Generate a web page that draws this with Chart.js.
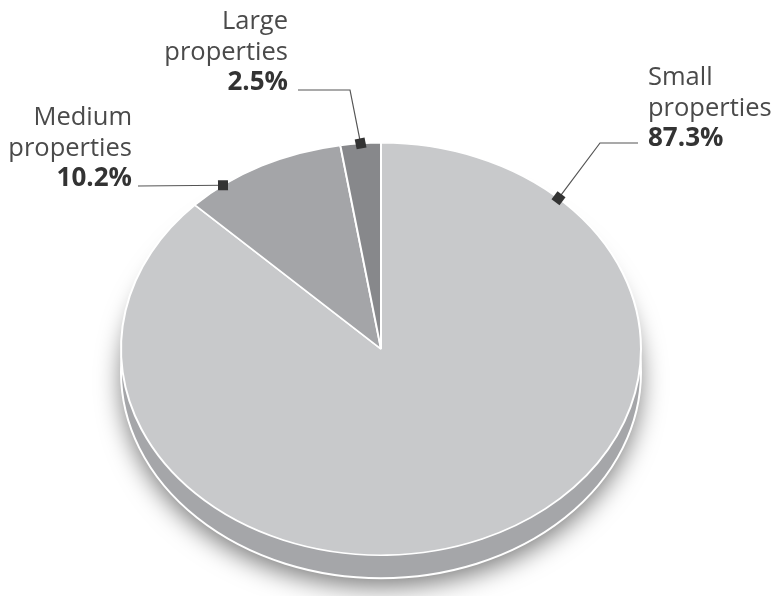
<!DOCTYPE html>
<html>
<head>
<meta charset="utf-8">
<script src="https://cdn.jsdelivr.net/npm/chart.js@4/dist/chart.umd.min.js"></script>
<style>
  html, body { margin: 0; padding: 0; background: #ffffff; }
  #wrap { width: 774px; height: 596px; position: relative; }
</style>
</head>
<body>
<div id="wrap"><canvas id="c" width="774" height="596"></canvas></div>
<script>
// ---- data ----
const categories = ['Small properties', 'Medium properties', 'Large properties'];
const shares = [87.3, 10.2, 2.5];
const nameLines = [['Small', 'properties'], ['Medium', 'properties'], ['Large', 'properties']];
const valueLabels = ['87.3%', '10.2%', '2.5%'];
const sliceColors = ['#c8c9cb', '#a4a5a8', '#87888b'];

// ---- layout / style ----
const TILT = 0.793;          // vertical squash of the pie (ellipse)
const TARGET_CY = 349;       // ellipse centre on the page
const DEPTH = 23;            // thickness of the pie side
const SIDE_COLOR = '#a5a6a9';
const LINE_H = 30.5;
const labelLayout = [
  { x: 648, align: 'left',  y0: 85,  frac: 0.137, path: [[638, 143], [600, 143]] },
  { x: 132, align: 'right', y0: 125, frac: 0.226, path: [[138, 186]] },
  { x: 288, align: 'right', y0: 29,  frac: 0.5,   path: [[298, 90], [350, 90]] }
];

function geom(chart) {
  const a = chart.getDatasetMeta(0).data[0];
  return { cx: a.x, cy: a.y, r: a.outerRadius };
}

const tiltPlugin = {
  id: 'tilt',
  beforeDatasetsDraw(chart) {
    const ctx = chart.ctx;
    const g = geom(chart);
    // side of the pie with drop shadow
    ctx.save();
    ctx.save();
    ctx.translate(g.cx, TARGET_CY + DEPTH);
    ctx.scale(1, TILT);
    ctx.beginPath();
    ctx.arc(0, 0, g.r, 0, Math.PI * 2);
    ctx.restore();
    ctx.shadowColor = 'rgba(0,0,0,0.5)';
    ctx.shadowBlur = 24;
    ctx.shadowOffsetY = 9;
    ctx.fillStyle = SIDE_COLOR;
    ctx.fill();
    ctx.shadowColor = 'rgba(0,0,0,0)';
    ctx.lineWidth = 2;
    ctx.strokeStyle = '#ffffff';
    ctx.stroke();
    ctx.restore();
    // squash the top face
    ctx.save();
    ctx.translate(g.cx, TARGET_CY);
    ctx.scale(1, TILT);
    ctx.translate(-g.cx, -g.cy);
  },
  afterDatasetsDraw(chart) {
    chart.ctx.restore();
  },
  afterDraw(chart) {
    const ctx = chart.ctx;
    const g = geom(chart);
    const arcs = chart.getDatasetMeta(0).data;
    ctx.save();
    arcs.forEach((arc, i) => {
      const L = labelLayout[i];
      const ang = arc.startAngle + L.frac * (arc.endAngle - arc.startAngle);
      const mx = g.cx + g.r * Math.cos(ang);
      const my = TARGET_CY + g.r * Math.sin(ang) * TILT;
      // leader line
      ctx.beginPath();
      ctx.moveTo(L.path[0][0], L.path[0][1]);
      for (let k = 1; k < L.path.length; k++) ctx.lineTo(L.path[k][0], L.path[k][1]);
      ctx.lineTo(mx, my);
      ctx.strokeStyle = '#555555';
      ctx.lineWidth = 1.2;
      ctx.stroke();
      // square marker rotated along last segment
      const last = L.path[L.path.length - 1];
      const rot = Math.atan2(my - last[1], mx - last[0]);
      ctx.save();
      ctx.translate(mx, my);
      ctx.rotate(rot);
      ctx.fillStyle = '#333333';
      ctx.fillRect(-5, -5, 10, 10);
      ctx.restore();
      // text
      ctx.textAlign = L.align;
      ctx.textBaseline = 'alphabetic';
      ctx.fillStyle = '#4a4a4a';
      ctx.font = '25.5px "Open Sans", sans-serif';
      nameLines[i].forEach((t, j) => ctx.fillText(t, L.x, L.y0 + j * LINE_H));
      ctx.fillStyle = '#333333';
      ctx.font = 'bold 26px "Open Sans", sans-serif';
      ctx.fillText(valueLabels[i], L.x, L.y0 + nameLines[i].length * LINE_H);
    });
    ctx.restore();
  }
};

new Chart(document.getElementById('c'), {
  type: 'pie',
  data: {
    labels: categories,
    datasets: [{
      data: shares,
      backgroundColor: sliceColors,
      borderColor: '#ffffff',
      borderWidth: 2
    }]
  },
  options: {
    responsive: false,
    animation: false,
    events: [],
    layout: { padding: { left: 120, right: 132, top: 37, bottom: 37 } },
    plugins: { legend: { display: false }, tooltip: { enabled: false } }
  },
  plugins: [tiltPlugin]
});
</script>
</body>
</html>
